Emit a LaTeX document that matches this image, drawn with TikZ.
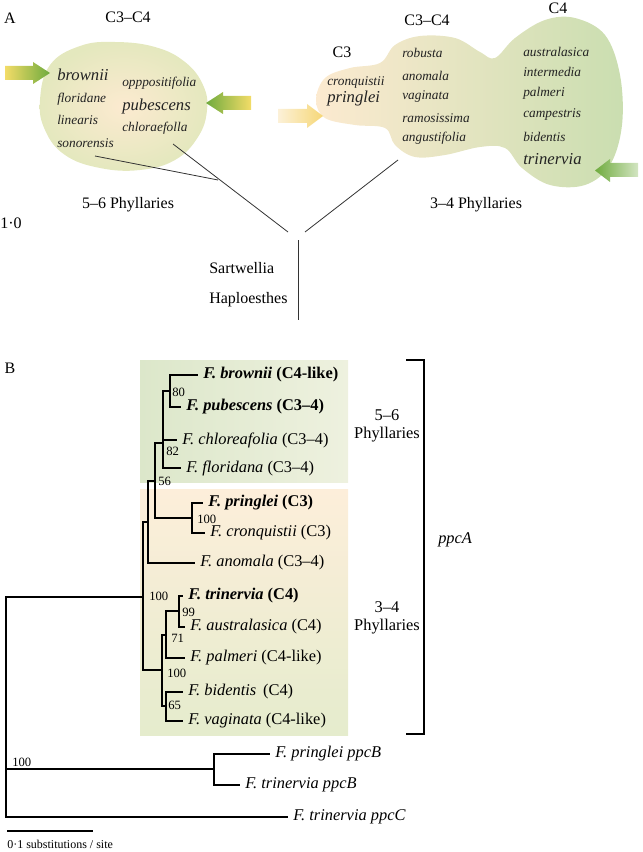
\documentclass[tikz,border=0pt]{standalone}
\usepackage{fontspec}
\setmainfont{Liberation Serif}
\usepackage{xcolor}
\usepackage{tikz}
\usetikzlibrary{calc}
\definecolor{arrgreen}{HTML}{6FAB3E}
\definecolor{arryel}{HTML}{F3DC68}
\definecolor{paleyel}{HTML}{FCF1D8}
\definecolor{yelB}{HTML}{F6D777}
\definecolor{palegrn}{HTML}{D3E5C2}
\definecolor{blobpeach}{HTML}{FCEAD0}
\definecolor{blobyel}{HTML}{EFECC6}
\definecolor{blobgrn}{HTML}{CADEB0}
\definecolor{blobedge}{HTML}{E4E8BE}
\definecolor{boxgrn}{HTML}{DCE7CA}
\definecolor{boxgrnlt}{HTML}{EEF1DF}
\definecolor{boxpeach}{HTML}{FDEEDA}
\definecolor{boxlt}{HTML}{E5ECCD}
\definecolor{inkx}{HTML}{222222}
\tikzset{
  br/.style={line width=1.4pt,black},
  tipbr/.style={br,shorten >=3.75pt},
  leaf/.style={anchor=west,inner sep=0pt,font=\fontsize{12.3}{13.5}\selectfont},
  bs/.style={anchor=west,inner sep=0pt,font=\fontsize{9.5}{11}\selectfont},
  sp/.style={anchor=west,inner sep=0pt,text=inkx,font=\fontsize{10}{12}\selectfont\itshape},
  bigsp/.style={sp,font=\fontsize{12.5}{14}\selectfont\itshape},
  hd/.style={inner sep=0pt,font=\fontsize{12}{14}\selectfont},
  stem/.style={line width=0.6pt,black!80}
}
\begin{document}
\begin{tikzpicture}[x=0.75pt,y=-0.75pt]
\useasboundingbox (0,0) rectangle (642,852);
% panel A: blobs
\shade[inner color=blobpeach,outer color=blobedge] plot[smooth cycle,tension=0.7] coordinates
  {(40,100) (50,65) (80,46) (115,42) (155,47) (185,62) (203,85) (207,110) (198,137) (175,160) (140,170) (100,168) (65,155) (45,130)};
\shade[left color=blobpeach,middle color=blobyel,right color=blobgrn] plot[smooth cycle,tension=0.6] coordinates
  {(316,100) (325,78) (350,68) (380,63) (395,45) (420,36) (455,38) (480,52) (495,58) (515,38) (545,20) (575,18) (605,35) (620,75) (622,125) (610,165) (585,185) (550,185) (522,168) (505,148) (480,147) (445,155) (415,157) (395,145) (385,128) (355,125) (325,118)};
% arrows
\shade[left color=arryel,right color=arrgreen] (5,66) -- (33,66) -- (33,62) -- (50,73) -- (33,84) -- (33,80) -- (5,80) -- cycle;
\shade[left color=arrgreen,right color=arryel] (251,96) -- (223,96) -- (223,92) -- (206,103) -- (223,114) -- (223,110) -- (251,110) -- cycle;
\shade[left color=paleyel,right color=yelB] (278,109) -- (307,109) -- (307,104) -- (323,116) -- (307,128) -- (307,123) -- (278,123) -- cycle;
\shade[left color=arrgreen,right color=palegrn] (638,163) -- (610,163) -- (610,159) -- (595,170.5) -- (610,182) -- (610,177) -- (638,177) -- cycle;

\node[hd] (lblA) at (10,18) {A};
\node[hd] (c34l) at (128,17) {C3--C4};
\node[hd] (c34r) at (427,20) {C3--C4};
\node[hd] (c4) at (558,8) {C4};
\node[hd] (c3) at (342,52) {C3};

\node[bigsp] (sbrown) at (57,75) {brownii};
\node[sp] (sflor) at (57,99) {floridane};
\node[sp] (slin) at (57,120) {linearis};
\node[sp] (sson) at (57,143) {sonorensis};
\node[sp] (sopp) at (122,83) {opppositifolia};
\node[bigsp] (spub) at (122,106) {pubescens};
\node[sp] (schl) at (122,128) {chloraefolla};

\node[sp] (scron) at (327,83) {cronquistii};
\node[bigsp] (spring) at (327,98) {pringlei};
\node[sp] (srob) at (402,53) {robusta};
\node[sp] (sano) at (402,76) {anomala};
\node[sp] (svag) at (402,97) {vaginata};
\node[sp] (sram) at (402,118) {ramosissima};
\node[sp] (sang) at (402,138) {angustifolia};
\node[sp] (saus) at (523,52) {australasica};
\node[sp] (sint) at (523,72) {intermedia};
\node[sp] (spal) at (523,93) {palmeri};
\node[sp] (scam) at (523,115) {campestris};
\node[sp] (sbid) at (523,137) {bidentis};
\node[bigsp] (strin) at (523,159) {trinervia};

% panel A: stems
\coordinate (la) at (95,156);
\coordinate (lj) at (218,180);
\coordinate (lb) at (173,144);
\coordinate (le) at (288,232);
\coordinate (ra) at (398,160);
\coordinate (re) at (305,232);
\coordinate (vt) at (298,240);
\coordinate (vb) at (298,320);
\draw[stem] (la) -- (lj);
\draw[stem] (lb) -- (le);
\draw[stem] (ra) -- (re);
\draw[stem] (vt) -- (vb);
\node[hd] (ph56) at (128,205) {5--6 Phyllaries};
\node[hd] (ph34) at (476,205) {3--4 Phyllaries};
\node[hd] (one) at (11,223) {1·0};
\node[hd,anchor=west] (sart) at (209,268) {Sartwellia};
\node[hd,anchor=west] (hapl) at (209,300) {Haploesthes};

% panel B
\node[hd] (lblB) at (10,368) {B};
\shade[left color=boxgrn,right color=boxgrnlt] (140,360) rectangle (348,482);
\shade[top color=boxpeach,bottom color=boxlt] (140,489) rectangle (348,735);
\coordinate (bt) at (406,360);
\coordinate (bb) at (406,734);
\draw[line width=1.2pt] (bt) -- ++(18,0) |- (bb);
\node[leaf,align=center,anchor=center] (g56) at (387,426) {5--6\\Phyllaries};
\node[leaf,align=center,anchor=center] (g34) at (387,618) {3--4\\Phyllaries};
\node[leaf,font=\fontsize{12.3}{13.5}\selectfont\itshape] (ppca) at (438,540) {ppcA};

% leaves
\node[leaf] (lbrownii) at (203,375) {\textbf{\textit{F. brownii} (C4-like)}};
\node[leaf] (lpubesc) at (186,407) {\textbf{\textit{F. pubescens} (C3--4)}};
\node[leaf] (lchlor) at (182,440) {\textit{F. chloreafolia} (C3--4)};
\node[leaf] (lflorid) at (186,468) {\textit{F. floridana} (C3--4)};
\node[leaf] (lpringl) at (208,503) {\textbf{\textit{F. pringlei} (C3)}};
\node[leaf] (lcronq) at (210,533) {\textit{F. cronquistii} (C3)};
\node[leaf] (lanom) at (200,563) {\textit{F. anomala} (C3--4)};
\node[leaf] (ltriner) at (188,596) {\textbf{\textit{F. trinervia} (C4)}};
\node[leaf] (laustr) at (190,627) {\textit{F. australasica} (C4)};
\node[leaf] (lpalm) at (190,658) {\textit{F. palmeri} (C4-like)};
\node[leaf] (lbident) at (188,692) {\textit{F. bidentis}\ \,(C4)};
\node[leaf] (lvagin) at (188,721) {\textit{F. vaginata} (C4-like)};
\node[leaf] (lpringB) at (275,754) {\textit{F. pringlei ppcB}};
\node[leaf] (ltrinB) at (245,785) {\textit{F. trinervia ppcB}};
\node[leaf] (ltrinC) at (293,817) {\textit{F. trinervia ppcC}};

% inner nodes
\coordinate (n80) at (170,391);
\coordinate (n82) at (163,443);
\coordinate (n56) at (155,481);
\coordinate (np100) at (192,518);
\coordinate (na) at (148,522);
\coordinate (n100) at (143,597);
\coordinate (nc100) at (162,670);
\coordinate (n71) at (166,635);
\coordinate (n99) at (179,611);
\coordinate (n65) at (166,706);
\coordinate (nroot) at (6,769);
\coordinate (nB) at (214,769);

\draw[tipbr] (n80) |- (lbrownii.west);
\draw[tipbr] (n80) |- (lpubesc.west);
\draw[br] (n82) |- (n80);
\draw[tipbr] (n82) |- (lchlor.west);
\draw[tipbr] (n82) |- (lflorid.west);
\draw[br] (n56) |- (n82);
\draw[br] (n56) |- (np100);
\draw[tipbr] (np100) |- (lpringl.west);
\draw[tipbr] (np100) |- (lcronq.west);
\draw[br] (na) |- (n56);
\draw[tipbr] (na) |- (lanom.west);
\draw[br] (n100) |- (na);
\draw[br] (n100) |- (nc100);
\draw[br] (nc100) |- (n71);
\draw[br] (nc100) |- (n65);
\draw[br] (n71) |- (n99);
\draw[tipbr] (n71) |- (lpalm.west);
\draw[tipbr] (n99) |- (ltriner.west);
\draw[tipbr] (n99) |- (laustr.west);
\draw[tipbr] (n65) |- (lbident.west);
\draw[tipbr] (n65) |- (lvagin.west);
\draw[br] (nroot) |- (n100);
\draw[br] (nroot) -- (nB);
\draw[tipbr] (nroot) |- (ltrinC.west);
\draw[tipbr] (nB) |- (lpringB.west);
\draw[tipbr] (nB) |- (ltrinB.west);

% bootstrap values
\node[bs] (b80) at (172,392) {80};
\node[bs] (b82) at (166,451) {82};
\node[bs] (b56) at (158,481) {56};
\node[bs] (b100p) at (197,519) {100};
\node[bs] (b100) at (149,596) {100};
\node[bs] (b99) at (182,612) {99};
\node[bs] (b71) at (171,638) {71};
\node[bs] (b100c) at (167,673) {100};
\node[bs] (b65) at (168,705) {65};
\node[bs] (b100B) at (12,762) {100};

% scale bar
\coordinate (sb1) at (7,831);
\coordinate (sb2) at (93,831);
\draw[br] (sb1) -- (sb2);
\node[bs,font=\fontsize{9}{11}\selectfont] (sbl) at (7,844) {0·1 substitutions / site};
\end{tikzpicture}
\end{document}
